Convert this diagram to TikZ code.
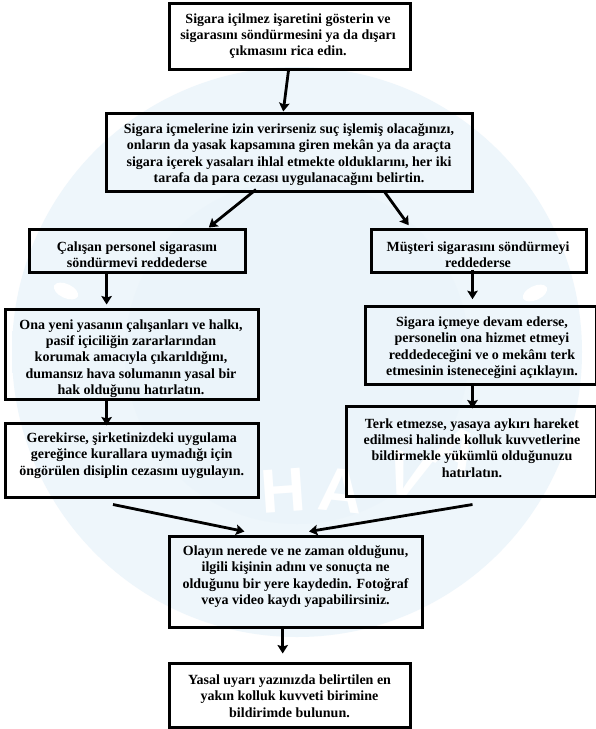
\documentclass[tikz,border=0pt]{standalone}
\usepackage{fontspec}
\setmainfont{Liberation Serif}
\newfontfamily\wmfont{Liberation Sans}
\usetikzlibrary{arrows.meta}
\definecolor{wmouter}{RGB}{222,236,246}
\definecolor{wmring}{RGB}{238,246,251}
\definecolor{wminner}{RGB}{235,244,250}
\definecolor{wmedge}{RGB}{248,252,254}
\pgfdeclareradialshading{wmdisc}{\pgfpoint{0bp}{0bp}}{color(0bp)=(wmring); color(28bp)=(wmring); color(50bp)=(wmouter)}
\pgfdeclareradialshading{wmcore}{\pgfpoint{0bp}{0bp}}{color(0bp)=(wminner); color(35bp)=(wminner); color(50bp)=(wmedge)}
\tikzset{
  flowbox/.style={draw=black,line width=3pt,inner sep=0pt},
  flowtext/.style={align=center,inner sep=0pt,text=black,font=\bfseries\fontsize{14}{16.4}\selectfont},
  flowline/.style={line width=2.8pt,-{Stealth[length=8.5pt,width=10.5pt,inset=1.5pt]},black},
  wmletter/.style={text=white,inner sep=0pt,font=\wmfont\bfseries\fontsize{62}{62}\selectfont}
}
\begin{document}
\begin{tikzpicture}[x=1pt,y=-1pt]
\useasboundingbox (0,0) rectangle (595,729);
\fill[white] (0,0) rectangle (595,729);
% watermark
\shade[shading=wmdisc] (297,352) circle (285);
\shade[shading=wmcore] (297,352) circle (172);
\fill[white,rotate around={-25:(66,291)}] (66,291) ellipse (13 and 7);
\fill[white,rotate around={25:(535,293)}] (535,293) ellipse (13 and 7);
\node (wh) [wmletter,rotate=4] at (283,491) {H};
\node (wa) [wmletter,rotate=-6] at (341,491) {A};
\node (wv) [wmletter,rotate=-18] at (408,476) {V};
\node (wb) [wmletter,rotate=-28] at (456,450) {A};
% boxes
\node (b1) [flowbox,minimum width=241pt,minimum height=66pt] at (289.5,36) {};
\node (b2) [flowbox,minimum width=366.5pt,minimum height=78pt] at (289.25,152) {};
\node (l1) [flowbox,minimum width=216.5pt,minimum height=43pt] at (137.25,250.5) {};
\node (r1) [flowbox,minimum width=215pt,minimum height=43pt] at (478.5,250.5) {};
\node (l2) [flowbox,minimum width=253pt,minimum height=90pt] at (131.5,354) {};
\node (l3) [flowbox,minimum width=253pt,minimum height=74pt] at (131.5,460) {};
\node (r2) [flowbox,minimum width=230.5pt,minimum height=78pt] at (480.75,345) {};
\node (r3) [flowbox,minimum width=250pt,minimum height=90pt] at (471,451) {};
\node (c) [flowbox,minimum width=253pt,minimum height=91pt] at (295.5,581.5) {};
\node (e) [flowbox,minimum width=241pt,minimum height=64pt] at (289.5,695) {};
% connectors
\draw[flowline] ([xshift=-1pt]b1.south) -- ([xshift=-6pt]b2.north);
\draw[flowline] ([xshift=-33.25pt,yshift=3pt]b2.south) -- ([xshift=71.5pt]l1.north);
\draw[flowline] ([xshift=95.75pt]b2.south) -- ([xshift=-69.8pt,yshift=2.3pt]r1.north);
\draw[flowline] ([xshift=-30.65pt]l1.south) -- ([xshift=-30.65pt,yshift=3pt]l1.south |- l2.north);
\draw[flowline] ([xshift=-6pt,yshift=4pt]r1.south) -- ([xshift=-6pt,yshift=5.3pt]r1.south |- r2.north);
\draw[flowline] ([xshift=-24.9pt]l2.south) -- ([xshift=-24.9pt,yshift=-4pt]l3.north);
\draw[flowline] ([xshift=-8.25pt,yshift=2pt]r2.south) -- ([xshift=1.5pt,yshift=-4pt]r3.north);
\draw[flowline] ([xshift=-18.5pt,yshift=-6pt]l3.south) -- ([xshift=-51pt,yshift=3pt]c.north);
\draw[flowline] ([xshift=1.5pt,yshift=-7pt]r3.south) -- ([xshift=13.5pt,yshift=3pt]c.north);
\draw[flowline] ([xshift=-12.8pt]c.south) -- ([xshift=-12.8pt,yshift=8pt]c.south |- e.north);
% texts
\node (t1) [flowtext] at (288,36) {Sigara içilmez işaretini gösterin ve\\sigarasını söndürmesini ya da dışarı\\çıkmasını rica edin.};
\node (t2) [flowtext] at (289,154.5) {Sigara içmelerine izin verirseniz suç işlemiş olacağınızı,\\onların da yasak kapsamına giren mekân ya da araçta\\sigara içerek yasaları ihlal etmekte olduklarını, her iki\\tarafa da para cezası uygulanacağını belirtin.};
\node (t3) [flowtext] at (137,254.5) {Çalışan personel sigarasını\\söndürmevi reddederse};
\node (t4) [flowtext] at (478,254.5) {Müşteri sigarasını söndürmeyi\\reddederse};
\node (t5) [flowtext] at (131,358.5) {Ona yeni yasanın çalışanları ve halkı,\\pasif içiciliğin zararlarından\\korumak amacıyla çıkarıldığını,\\dumansız hava solumanın yasal bir\\hak olduğunu hatırlatın.};
\node (t6) [flowtext] at (131.7,455.5) {Gerekirse, şirketinizdeki uygulama\\gereğince kurallara uymadığı için\\öngörülen disiplin cezasını uygulayın.};
\node (t7) [flowtext] at (482,347.5) {Sigara içmeye devam ederse,\\personelin ona hizmet etmeyi\\reddedeceğini ve o mekânı terk\\etmesinin isteneceğini açıklayın.};
\node (t8) [flowtext] at (472,448) {Terk etmezse, yasaya aykırı hareket\\edilmesi halinde kolluk kuvvetlerine\\bildirmekle yükümlü olduğunuzu\\hatırlatın.};
\node (t9) [flowtext] at (295.6,576.5) {Olayın nerede ve ne zaman olduğunu,\\ilgili kişinin adını ve sonuçta ne\\olduğunu bir yere kaydedin. Fotoğraf\\veya video kaydı yapabilirsiniz.};
\node (t10) [flowtext] at (289.5,696) {Yasal uyarı yazınızda belirtilen en\\yakın kolluk kuvveti birimine\\bildirimde bulunun.};
\end{tikzpicture}
\end{document}
